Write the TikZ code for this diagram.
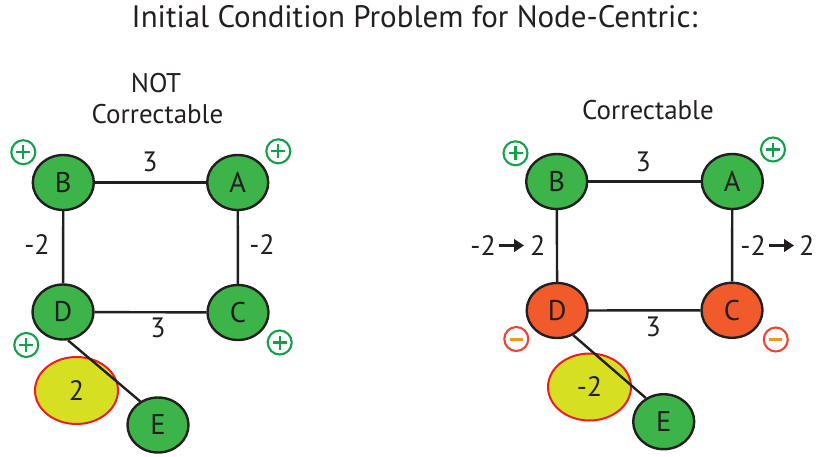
\documentclass[tikz,border=0pt]{standalone}
\usepackage{fontspec}
\setmainfont{PT Sans}
\usetikzlibrary{shapes.geometric,arrows.meta}
\definecolor{ngreen}{HTML}{3CB44A}
\definecolor{norange}{HTML}{F15A2B}
\definecolor{hotyellow}{HTML}{D7DF23}
\definecolor{hotred}{HTML}{ED1C24}
\definecolor{pgreen}{HTML}{12A04B}
\definecolor{mred}{HTML}{EF4136}
\definecolor{morange}{HTML}{F7941E}
\definecolor{ink}{HTML}{231F20}
\begin{document}
\begin{tikzpicture}[x=1pt,y=-1pt,
  vert/.style={ellipse,draw=ink,line width=2.4pt,minimum width=61pt,minimum height=55pt,inner sep=0pt,font=\fontsize{28.5}{32}\selectfont,text=ink},
  gvert/.style={vert,fill=ngreen},
  overt/.style={vert,fill=norange},
  edge/.style={draw=ink,line width=2.4pt},
  lbl/.style={font=\fontsize{28}{32}\selectfont,text=ink,inner sep=0pt},
  hot/.style={ellipse,draw=hotred,line width=2pt,fill=hotyellow,minimum width=83pt,minimum height=67pt,inner sep=0pt,font=\fontsize{28}{32}\selectfont,text=ink},
  plusicon/.style={circle,draw=pgreen,line width=2.1pt,minimum size=24pt,inner sep=0pt,
    path picture={\draw[pgreen,line width=2.3pt]
      ([xshift=-7pt]path picture bounding box.center) -- ([xshift=7pt]path picture bounding box.center)
      ([yshift=-7pt]path picture bounding box.center) -- ([yshift=7pt]path picture bounding box.center);}},
  minusicon/.style={circle,draw=mred,line width=2.1pt,minimum size=24pt,inner sep=0pt,
    path picture={\draw[morange,line width=3pt]
      ([xshift=-6.5pt]path picture bounding box.center) -- ([xshift=6.5pt]path picture bounding box.center);}},
  arr/.style={draw=ink,line width=2.7pt,-{Triangle[length=10pt,width=12.5pt]}},
  ttl/.style={font=\fontsize{31}{36}\selectfont,text=ink,anchor=base,inner sep=0pt},
  sub/.style={ttl,font=\fontsize{27}{32}\selectfont},
]
\useasboundingbox (0,0) rectangle (817,456);

% title
\node[ttl] (title) at (414.5,27.5) {Initial Condition Problem for Node-Centric:};
\node[sub] (not) at (156,92.3) {NOT};
\node[sub] (corrL) at (157.5,123) {Correctable};
\node[sub] (corrR) at (648,119) {Correctable};

% ---------- left graph ----------
\node[hot] (hL) at (76.5,390.5) {2};
\node[gvert] (BL) at (63.3,182.5) {B};
\node[gvert] (AL) at (237.7,182.5) {A};
\node[gvert] (DL) at (63,312) {D};
\node[gvert] (CL) at (238,312.5) {C};
\node[gvert] (EL) at (158,425) {E};
\draw[edge] (BL) -- (AL);
\draw[edge] (BL) -- (DL);
\draw[edge] (AL) -- (CL);
\draw[edge] (DL) -- (CL);
\draw[edge] (DL.-80) -- (EL.127);
\node[lbl] (l1) at (150,161.5) {3};
\node[lbl] (l2) at (37,244.3) {-2};
\node[lbl] (l3) at (262,244.3) {-2};
\node[lbl] (l4) at (158,328.3) {3};
\node[plusicon] (pBL) at (23.3,152.2) {};
\node[plusicon] (pAL) at (278.3,151.3) {};
\node[plusicon] (pDL) at (26.3,345) {};
\node[plusicon] (pCL) at (279.7,342.5) {};

% ---------- right graph ----------
\node[hot] (hR) at (589.5,387) {-2};
\node[gvert] (BR) at (556.7,181.5) {B};
\node[gvert] (AR) at (732.3,181.5) {A};
\node[overt] (DR) at (557.2,310.5) {D};
\node[overt] (CR) at (732,310.3) {C};
\node[gvert] (ER) at (663.7,421.7) {E};
\draw[edge] (BR) -- (AR);
\draw[edge] (BR) -- (DR);
\draw[edge] (AR) -- (CR);
\draw[edge] (DR) -- (CR);
\draw[edge] (DR.-57) -- (ER.127);
\node[lbl] (r1) at (643.3,162) {3};
\node[lbl] (r4) at (653.3,327) {3};
\node[lbl,anchor=east] (rl1) at (496,245.5) {-2};
\node[lbl,anchor=west] (rl2) at (530,245.5) {2};
\draw[arr] ([xshift=3pt]rl1.east) -- ([xshift=-6pt]rl2.west);
\node[lbl,anchor=east] (rr1) at (766,245.5) {-2};
\node[lbl,anchor=west] (rr2) at (799,245.5) {2};
\draw[arr] ([xshift=3pt]rr1.east) -- ([xshift=-5pt]rr2.west);
\node[plusicon] (pBR) at (515.5,153.3) {};
\node[plusicon] (pAR) at (773,149.5) {};
\node[minusicon] (mDR) at (516.3,339) {};
\node[minusicon] (mCR) at (775.8,339.5) {};
\end{tikzpicture}
\end{document}
